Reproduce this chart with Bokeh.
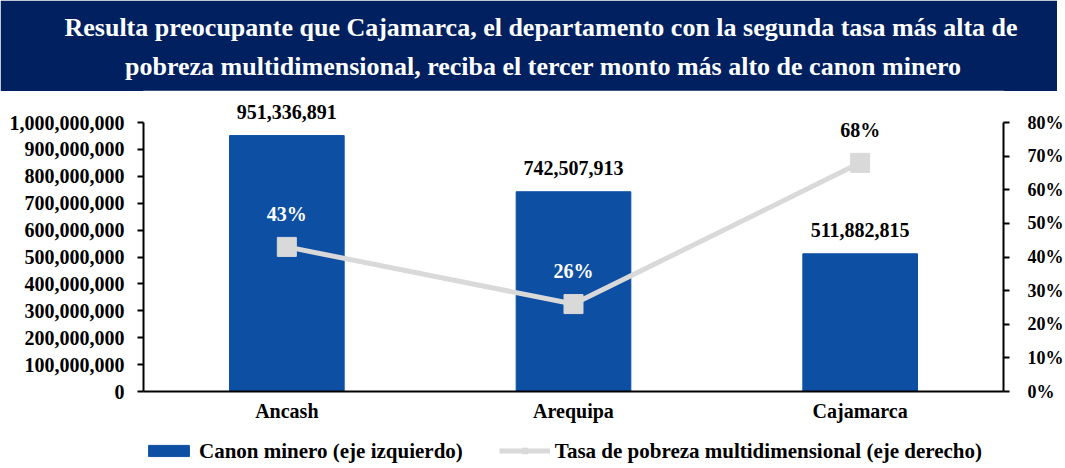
from bokeh.plotting import figure
from bokeh.models import (ColumnDataSource, Range1d, LinearAxis, FactorRange, Title,
                          NumeralTickFormatter, FixedTicker, Legend, LegendItem)
from bokeh.layouts import column
from bokeh.core.properties import value
from bokeh.embed import file_html
from bokeh.resources import INLINE

# ---- data ----
departamentos = ["Ancash", "Arequipa", "Cajamarca"]
canon_minero = [951336891, 742507913, 511882815]
tasa_pobreza = [0.43, 0.26, 0.68]
titulo = [
    "Resulta preocupante que Cajamarca, el departamento con la segunda tasa más alta de",
    "pobreza multidimensional, reciba el tercer monto más alto de canon minero",
]
left_ticks = [i * 100_000_000 for i in range(11)]
right_ticks = [i / 10 for i in range(9)]
leyenda = ["Canon minero (eje izquierdo)", "Tasa de pobreza multidimensional (eje derecho)"]

FONT = "Liberation Serif"
NAVY = "#002060"
BLUE = "#0D4FA3"
GRAY = "#D9D9D9"

# ---- layout constants (pixels) ----
FW = 860            # frame width
BL, BR = 143, 54    # left / right borders
AX_H = 269          # height of the 0..max axis span
FH = 292            # frame height (extra room on top for labels)
LEFT_MAX = 1_000_000_000
RIGHT_MAX = 0.8

# ---- title band ----
tf = figure(frame_width=FW, frame_height=1, min_border_left=BL, min_border_right=BR,
            min_border_top=0, min_border_bottom=0,
            x_axis_location=None, y_axis_location=None,
            output_backend="svg", toolbar_location=None, outline_line_color=None,
            background_fill_color=NAVY, border_fill_color=NAVY)
tf.grid.visible = False
# small spacer between the second title line and the bottom of the band
tf.add_layout(Title(text=" ", text_font_size="1px", standoff=5, text_color=NAVY), "above")
tf.add_layout(Title(text=titulo[1], align="left", offset=-18.5, vertical_align="top",
                    standoff=0, text_font=FONT, text_font_style="bold",
                    text_font_size="26px", text_color="white"), "above")
tf.add_layout(Title(text=titulo[0], align="left", offset=-79, vertical_align="bottom",
                    standoff=20, text_font=FONT, text_font_style="bold",
                    text_font_size="26px", text_color="white"), "above")

# ---- main chart ----
src = ColumnDataSource(dict(
    dep=departamentos,
    canon=canon_minero,
    pct=tasa_pobreza,
    canon_lbl=[f"{v:,}" for v in canon_minero],
    pct_lbl=[f"{round(v * 100)}%" for v in tasa_pobreza],
    pct_col=["white" if v / RIGHT_MAX < c / LEFT_MAX else "black"
             for v, c in zip(tasa_pobreza, canon_minero)],
))

p = figure(x_range=FactorRange(*departamentos),
           y_range=Range1d(0, LEFT_MAX * FH / AX_H),
           frame_width=FW, frame_height=FH,
           min_border_left=BL, min_border_right=BR, min_border_top=8, min_border_bottom=43,
           output_backend="svg", toolbar_location=None, outline_line_color=None)
p.extra_y_ranges = {"pct": Range1d(0, RIGHT_MAX * FH / AX_H)}
p.grid.visible = False

bar_style = dict(width=0.4, color=BLUE)
line_style = dict(line_color=GRAY, line_width=5)
sq_style = dict(marker="square", size=19, color=GRAY)

bars = p.vbar(x="dep", top="canon", source=src, **bar_style)
ln = p.line(x="dep", y="pct", y_range_name="pct", source=src, **line_style)
sc = p.scatter(x="dep", y="pct", y_range_name="pct", source=src, **sq_style)

p.text(x="dep", y="canon", text="canon_lbl", text_align="center", text_baseline="middle",
       y_offset=-24, text_color="black", text_font=value(FONT), text_font_style="bold",
       text_font_size="20px", source=src)
p.text(x="dep", y="pct", text="pct_lbl", y_range_name="pct", text_align="center",
       text_baseline="middle", y_offset=-33, text_color="pct_col", text_font=value(FONT),
       text_font_style="bold", text_font_size="20px", source=src)

def style_axis(ax, size="20px"):
    ax.axis_line_color = "black"
    ax.axis_line_width = 2
    ax.major_tick_line_color = "black"
    ax.major_tick_line_width = 2
    ax.major_tick_in = 0
    ax.major_tick_out = 6
    ax.minor_tick_line_color = None
    ax.major_label_text_font = FONT
    ax.major_label_text_font_style = "bold"
    ax.major_label_text_font_size = size
    ax.major_label_text_color = "black"

yl = p.yaxis[0]
yl.ticker = FixedTicker(ticks=left_ticks)
yl.formatter = NumeralTickFormatter(format="0,0")
yl.bounds = (0, LEFT_MAX)
style_axis(yl)
yl.major_label_standoff = 13

yr = LinearAxis(y_range_name="pct", ticker=FixedTicker(ticks=right_ticks),
                formatter=NumeralTickFormatter(format="0%"), bounds=(0, RIGHT_MAX))
style_axis(yr, "18px")
yr.major_label_standoff = 18
p.add_layout(yr, "right")

xa = p.xaxis[0]
style_axis(xa)
xa.major_tick_out = 0
xa.major_label_standoff = 8

# ---- legend strip (hidden copies of the series, so only the legend shows) ----
lf = figure(x_range=FactorRange(*departamentos), y_range=Range1d(0, 1),
            frame_width=FW, frame_height=33, min_border_left=BL, min_border_right=BR,
            min_border_top=0, min_border_bottom=0,
            x_axis_location=None, y_axis_location=None,
            output_backend="svg", toolbar_location=None, outline_line_color=None)
lf.grid.visible = False
lg_bar = lf.vbar(x="dep", top="canon", source=src, visible=False, **bar_style)
lg_line = lf.line(x="dep", y="pct", source=src, visible=False, **line_style)
lg_sq = lf.scatter(x="dep", y="pct", source=src, visible=False, **sq_style)

legend = Legend(items=[LegendItem(label=leyenda[0], renderers=[lg_bar]),
                       LegendItem(label=leyenda[1], renderers=[lg_line, lg_sq])],
                orientation="horizontal", location="left",
                border_line_color=None, background_fill_alpha=0,
                inactive_fill_alpha=0,
                glyph_width=51, glyph_height=14, spacing=36, label_standoff=5,
                label_text_font=FONT, label_text_font_style="bold",
                label_text_color="black",
                label_text_font_size="21px", padding=0, margin=0)
lf.add_layout(legend)

layout = column(tf, p, lf, spacing=0)
open("out.html", "w").write(file_html(layout, INLINE))
